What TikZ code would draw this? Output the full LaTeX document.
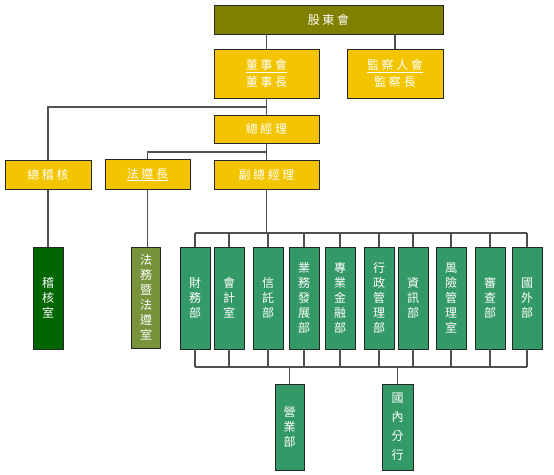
\documentclass[tikz,border=0pt]{standalone}
\usepackage{fontspec}
\newfontfamily\cjkh[LetterSpace=22]{Noto Sans CJK TC}
\newfontfamily\cjkv{Noto Sans CJK TC}
\definecolor{olivebox}{HTML}{808000}
\definecolor{goldbox}{HTML}{F2C500}
\definecolor{deptgreen}{HTML}{339966}
\definecolor{darkgreenbox}{HTML}{006600}
\definecolor{olivegreenbox}{HTML}{77933C}
\definecolor{connector}{HTML}{505050}
\tikzset{
  base/.style={draw=black!85, line width=0.9pt, text=white, inner sep=0pt, rectangle},
  hbox/.style={base, font=\cjkh\fontsize{12}{17}\selectfont, align=center},
  vbox/.style={base, font=\cjkv\fontsize{12}{15}\selectfont, align=center, minimum width=30pt, minimum height=102pt},
  gold/.style={hbox, fill=goldbox},
  dept/.style={vbox, fill=deptgreen},
  conn/.style={draw=connector, line width=1.2pt}
}
\begin{document}
\begin{tikzpicture}[x=1pt,y=-1pt]
\useasboundingbox (0,0) rectangle (554,474);
% top level
\node[hbox, fill=olivebox, minimum width=229pt, minimum height=29pt] (sh) at (328.5,19.5) {股東會};
\node[gold, minimum width=105pt, minimum height=49pt] (ds) at (266.5,73.5) {\underline{董事會}\\董事長};
\node[gold, minimum width=96pt, minimum height=49pt] (jc) at (395,73.5) {\underline{監察人會}\\監察長};
\node[gold, minimum width=105pt, minimum height=28pt] (zj) at (266.5,129) {總經理};
\node[gold, minimum width=86pt, minimum height=29pt] (zjh) at (48,175) {總稽核};
\node[gold, minimum width=85pt, minimum height=30pt] (fz) at (147.5,174.5) {\underline{法遵長}};
\node[gold, minimum width=105pt, minimum height=29pt] (fzj) at (266.5,174.5) {副總經理};
% units
\node[vbox, fill=darkgreenbox] (jhs) at (48,298) {稽\\核\\室};
\node[vbox, fill=olivegreenbox, minimum width=29pt, minimum height=101pt] (fw) at (146,297.5) {法\\務\\暨\\法\\遵\\室};
\node[dept] (d1) at (195,298) {財\\務\\部};
\node[dept] (d2) at (229,298) {會\\計\\室};
\node[dept] (d3) at (268,298) {信\\託\\部};
\node[dept] (d4) at (304,298) {業\\務\\發\\展\\部};
\node[dept] (d5) at (340,298) {專\\業\\金\\融\\部};
\node[dept] (d6) at (379,298) {行\\政\\管\\理\\部};
\node[dept] (d7) at (413,298) {資\\訊\\部};
\node[dept] (d8) at (451,298) {風\\險\\管\\理\\室};
\node[dept] (d9) at (490,298) {審\\查\\部};
\node[dept] (d10) at (527,298) {國\\外\\部};
\node[dept, minimum width=29pt, minimum height=86pt] (yy) at (289.5,427) {營\\業\\部};
\node[dept, minimum width=31pt, minimum height=86pt, font=\cjkv\fontsize{12}{19}\selectfont] (gn) at (397.5,427) {國\\內\\分\\行};
% bus coordinates
\coordinate (b1) at (266.5,107);
\coordinate (b2) at (266.5,152);
\coordinate (tb) at (266.5,233);
\coordinate (bb) at (0,367);
% connectors
\draw[conn] (ds.north |- sh.south) -- (ds.north);
\draw[conn] (jc.north |- sh.south) -- (jc.north);
\draw[conn] (ds.south) -- (zj.north);
\draw[conn] (b1) -| (zjh.north);
\draw[conn] (zj.south) -- (fzj.north);
\draw[conn] (b2) -| (fz.north);
\draw[conn] (zjh.south) -- (jhs.north);
\draw[conn] (fz.south) -- (fz.south |- fw.north);
\draw[conn] (fzj.south) -- (tb);
\draw[conn] (d1.north |- tb) -- (d10.north |- tb);
\draw[conn] (d1.south |- bb) -- (d10.south |- bb);
\foreach \d in {d1,d2,d3,d4,d5,d6,d7,d8,d9,d10}{
  \draw[conn] (\d.north |- tb) -- (\d.north);
  \draw[conn] (\d.south) -- (\d.south |- bb);
}
\draw[conn] (yy.north |- bb) -- (yy.north);
\draw[conn] (gn.north |- bb) -- (gn.north);
\end{tikzpicture}
\end{document}
